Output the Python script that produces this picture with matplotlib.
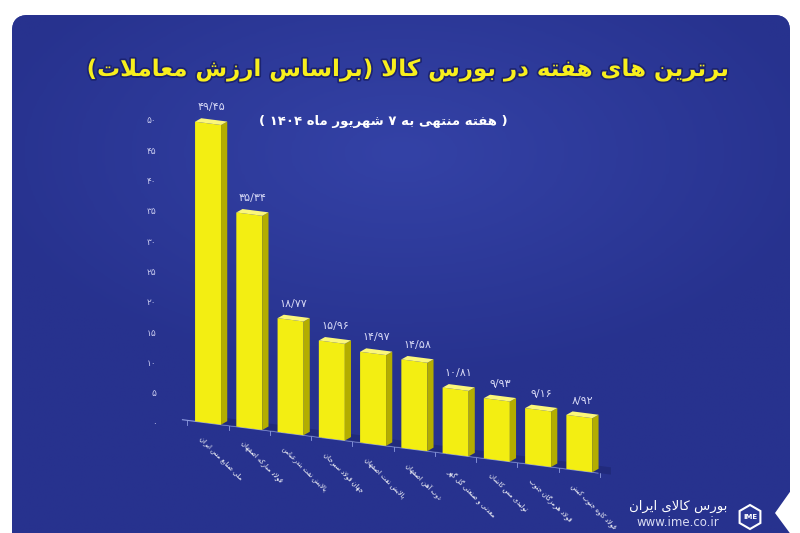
import re

import matplotlib.pyplot as plt
import numpy as np
from matplotlib.colors import LinearSegmentedColormap
from matplotlib.patches import FancyBboxPatch, Polygon, RegularPolygon
from matplotlib.transforms import Affine2D
import matplotlib.patheffects as pe

# Dane wykresu
title = 'برترین های هفته در بورس کالا (براساس ارزش معاملات)'
subtitle = '( هفته منتهی به ۷ شهریور ماه ۱۴۰۴ )'
companies = [
    'ملی صنایع مس ایران',
    'فولاد مبارکه اصفهان',
    'پالایش نفت بندرعباس',
    'جهان فولاد سیرجان',
    'پالایش نفت اصفهان',
    'ذوب آهن اصفهان',
    'معدنی و صنعتی گل گهر',
    'تولیدی مس کاشان',
    'فولاد هرمزگان جنوب',
    'فولاد کاوه جنوب کیش',
]
values = [49.45, 35.34, 18.77, 15.96, 14.97, 14.58, 10.81, 9.93, 9.16, 8.92]
y_ticks = [0, 5, 10, 15, 20, 25, 30, 35, 40, 45, 50]
brand_name = 'بورس کالای ایران'
brand_url = 'www.ime.co.ir'

# Formy prezentacyjne liter (matplotlib nie laczy liter arabskich sam)
DUAL_FORMS = {
    '\u0628': '\uFE8F\uFE90\uFE91\uFE92', '\u067E': '\uFB56\uFB57\uFB58\uFB59',
    '\u062A': '\uFE95\uFE96\uFE97\uFE98', '\u062B': '\uFE99\uFE9A\uFE9B\uFE9C',
    '\u062C': '\uFE9D\uFE9E\uFE9F\uFEA0', '\u0686': '\uFB7A\uFB7B\uFB7C\uFB7D',
    '\u062D': '\uFEA1\uFEA2\uFEA3\uFEA4', '\u062E': '\uFEA5\uFEA6\uFEA7\uFEA8',
    '\u0633': '\uFEB1\uFEB2\uFEB3\uFEB4', '\u0634': '\uFEB5\uFEB6\uFEB7\uFEB8',
    '\u0635': '\uFEB9\uFEBA\uFEBB\uFEBC', '\u0636': '\uFEBD\uFEBE\uFEBF\uFEC0',
    '\u0637': '\uFEC1\uFEC2\uFEC3\uFEC4', '\u0638': '\uFEC5\uFEC6\uFEC7\uFEC8',
    '\u0639': '\uFEC9\uFECA\uFECB\uFECC', '\u063A': '\uFECD\uFECE\uFECF\uFED0',
    '\u0641': '\uFED1\uFED2\uFED3\uFED4', '\u0642': '\uFED5\uFED6\uFED7\uFED8',
    '\u06A9': '\uFB8E\uFB8F\uFB90\uFB91', '\u06AF': '\uFB92\uFB93\uFB94\uFB95',
    '\u0644': '\uFEDD\uFEDE\uFEDF\uFEE0', '\u0645': '\uFEE1\uFEE2\uFEE3\uFEE4',
    '\u0646': '\uFEE5\uFEE6\uFEE7\uFEE8', '\u0647': '\uFEE9\uFEEA\uFEEB\uFEEC',
    '\u06CC': '\uFBFC\uFBFD\uFBFE\uFBFF', '\u0626': '\uFE89\uFE8A\uFE8B\uFE8C',
}
RIGHT_FORMS = {
    '\u0627': '\uFE8D\uFE8E', '\u0622': '\uFE81\uFE82', '\u0623': '\uFE83\uFE84',
    '\u062F': '\uFEA9\uFEAA', '\u0630': '\uFEAB\uFEAC', '\u0631': '\uFEAD\uFEAE',
    '\u0632': '\uFEAF\uFEB0', '\u0698': '\uFB8A\uFB8B', '\u0648': '\uFEED\uFEEE',
}
LAM_ALEF = {'\u0627': '\uFEFB\uFEFC', '\u0622': '\uFEF5\uFEF6', '\u0623': '\uFEF7\uFEF8'}
MIRROR = str.maketrans('()', ')(')
FA_DIGITS = str.maketrans('0123456789.', '۰۱۲۳۴۵۶۷۸۹/')


def shape(text):
    """Laczy litery i odwraca kolejnosc (RTL), cyfry zostaja LTR."""
    glyphs = []
    i = 0
    while i < len(text):
        c = text[i]
        prev = text[i - 1] if i > 0 else ''
        nxt = text[i + 1] if i + 1 < len(text) else ''
        joined_before = prev in DUAL_FORMS
        if c == '\u0644' and nxt in LAM_ALEF:
            glyphs.append(LAM_ALEF[nxt][1 if joined_before else 0])
            i += 2
            continue
        if c in DUAL_FORMS:
            joined_after = nxt in DUAL_FORMS or nxt in RIGHT_FORMS
            idx = {(False, False): 0, (True, False): 1,
                   (False, True): 2, (True, True): 3}[(joined_before, joined_after)]
            glyphs.append(DUAL_FORMS[c][idx])
        elif c in RIGHT_FORMS:
            glyphs.append(RIGHT_FORMS[c][1 if joined_before else 0])
        else:
            glyphs.append(c)
        i += 1
    shaped = ''.join(glyphs)
    tokens = re.findall(r'[0-9\u06F0-\u06F9/]+|[^0-9\u06F0-\u06F9/]+', shaped)
    out = []
    for tok in reversed(tokens):
        if re.match(r'[0-9\u06F0-\u06F9/]', tok):
            out.append(tok)
        else:
            out.append(tok[::-1].translate(MIRROR))
    return ''.join(out)


def fa_num(v, fmt='{:.2f}'):
    return fmt.format(v).translate(FA_DIGITS)


plt.rcParams['font.family'] = ['DejaVu Sans']

fig = plt.figure(figsize=(8, 5.33), dpi=100, facecolor='white')

# ---------------------------------------------------------
# Tlo: niebieski panel z zaokraglonymi rogami
# ---------------------------------------------------------
bg = fig.add_axes([0, 0, 1, 1])
bg.set_xlim(0, 800)
bg.set_ylim(0, 533)
bg.axis('off')

panel = FancyBboxPatch((12, -30), 778, 548, boxstyle='round,pad=0,rounding_size=16',
                       facecolor='#2b3796', edgecolor='none', zorder=1)
bg.add_patch(panel)
gx, gy = np.meshgrid(np.linspace(-1, 1, 200), np.linspace(-1, 1, 200))
grad = np.clip(1 - np.sqrt((gx * 0.9) ** 2 + ((gy - 0.5) * 1.2) ** 2), 0, 1)
cmap = LinearSegmentedColormap.from_list('panel', ['#27328e', '#3442a6'])
img = bg.imshow(grad, extent=[12, 790, -30, 518], cmap=cmap, aspect='auto',
                origin='lower', zorder=2)
img.set_clip_path(panel)
bg.set_xlim(0, 800)
bg.set_ylim(0, 533)
bg.add_patch(Polygon([(792, 44), (775, 20), (792, -3)], facecolor='white',
                     edgecolor='none', zorder=3))

# Logo
bg.add_patch(RegularPolygon((750, 16), numVertices=6, radius=12, facecolor='#2b3796',
                            edgecolor='white', lw=1.5, zorder=4))
bg.text(750, 16, 'IME', ha='center', va='center', fontsize=5, fontweight='bold',
        color='white', zorder=5)
bg.text(678, 27, shape(brand_name), ha='center', va='center', fontsize=9.5,
        color='white', zorder=5)
bg.text(678, 11, brand_url, ha='center', va='center', fontsize=8.5,
        color='#d9dcf3', zorder=5)

# Tytuly
fig.text(0.509, 1 - 70 / 533, shape(title), ha='center', va='center', fontsize=16.5,
         fontweight='bold', color='#f8ef1d',
         path_effects=[pe.withStroke(linewidth=2.5, foreground='#1c2370')])
fig.text(383 / 800, 1 - 121 / 533, shape(subtitle), ha='center', va='center',
         fontsize=9.5, fontweight='bold', color='white')

# ---------------------------------------------------------
# Wykres slupkowy z efektem 3D
# ---------------------------------------------------------
ax = fig.add_axes([180 / 800, 110 / 533, 420 / 800, 323 / 533])
ax.set_facecolor('none')
ax.set_xlim(-0.68, 9.5)
ax.set_ylim(0, 53.3)
for spine in ax.spines.values():
    spine.set_visible(False)
ax.set_xticks([])
ax.set_yticks(y_ticks)
ax.set_yticklabels([fa_num(t, '{:d}') for t in y_ticks])
ax.tick_params(axis='y', length=0, pad=17, labelsize=6.5, labelcolor='#c9cbef')

# Perspektywa: lekkie pochylenie podstawy w dol w prawo
x0, y0 = ax.transData.transform((0, 0))
skew = Affine2D().translate(-x0, -y0).skew_deg(0, -7.3).translate(x0, y0)
trans = ax.transData + skew

x = np.arange(len(values))
bars = ax.bar(x, values, width=0.63, color='#f3ee12', edgecolor='none',
              transform=trans, clip_on=False, zorder=3)

dx, dy = 0.15, 0.7
for rect in bars:
    bx, bw, bh = rect.get_x(), rect.get_width(), rect.get_height()
    shadow = Polygon([(bx + bw, 0), (bx + bw + 0.45, 0), (bx + bw + 0.45, 1.2),
                      (bx + bw, 1.2)], facecolor='#1d2670', edgecolor='none',
                     alpha=0.6, transform=trans, clip_on=False, zorder=2)
    side = Polygon([(bx + bw, 0), (bx + bw + dx, dy), (bx + bw + dx, bh + dy),
                    (bx + bw, bh)], facecolor='#b3ad00', edgecolor='none',
                   transform=trans, clip_on=False, zorder=3)
    top = Polygon([(bx, bh), (bx + bw, bh), (bx + bw + dx, bh + dy), (bx + dx, bh + dy)],
                  facecolor='#fbf77a', edgecolor='none', transform=trans,
                  clip_on=False, zorder=4)
    ax.add_patch(shadow)
    ax.add_patch(side)
    ax.add_patch(top)

# Linia podstawy z kreskami
ax.plot([-0.62, 9.45], [0, 0], color='#8e9ce0', lw=0.8, transform=trans,
        clip_on=False, zorder=1)
for xi in np.arange(-0.5, len(values), 1.0):
    ax.plot([xi, xi], [0, -0.7], color='#8e9ce0', lw=0.6, transform=trans,
            clip_on=False, zorder=1)

# Wartosci nad slupkami i nazwy pod slupkami
for xi, v, name in zip(x, values, companies):
    ax.text(xi + dx / 2, v + dy + 2.0, fa_num(v), ha='center', va='center',
            fontsize=8, color='#d6d8f5', transform=trans, zorder=5)
    ax.text(xi - 0.12, -2.1, shape(name), rotation=-45, rotation_mode='anchor',
            ha='left', va='top', fontsize=4.8, color='white', transform=trans,
            clip_on=False, zorder=5)

plt.savefig('out.png', dpi=100, facecolor='white')
